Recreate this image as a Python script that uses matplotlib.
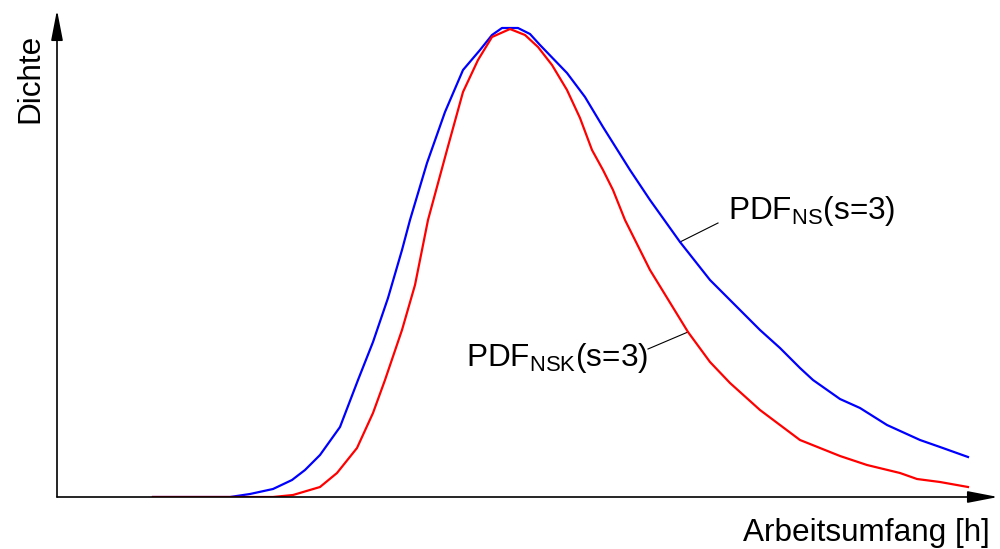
import numpy as np
import matplotlib.pyplot as plt

plt.rcParams['font.family'] = ['Liberation Sans', 'DejaVu Sans']
plt.rcParams['mathtext.default'] = 'regular'

# Arbeitsumfang [h] (arbitrary units) and density values
x_ns = [9.6, 17.3, 19.3, 21.6, 23.5, 24.8, 26.3, 28.3, 30.1, 31.6, 33.1, 34.5, 35.3,
        37.0, 38.8, 40.6, 42.3, 43.5, 44.5, 46.1, 47.3, 48.3, 51.0, 52.8, 54.6, 57.3,
        59.3, 62.3, 65.3, 68.3, 70.3, 72.3, 74.3, 75.6, 78.3, 80.3, 83.0, 86.3, 88.3, 91.1]
y_ns = [0.0, 0.0, 0.003, 0.008, 0.017, 0.027, 0.042, 0.070, 0.117, 0.155, 0.199, 0.247, 0.277,
        0.334, 0.385, 0.427, 0.447, 0.462, 0.469, 0.469, 0.463, 0.452, 0.424, 0.400, 0.370, 0.327,
        0.297, 0.255, 0.217, 0.187, 0.167, 0.149, 0.129, 0.117, 0.098, 0.089, 0.072, 0.057, 0.050, 0.040]

x_nsk = [9.6, 21.6, 23.6, 26.3, 28.0, 30.0, 31.6, 32.8, 34.5, 35.8, 37.1, 39.0, 40.6, 42.1,
         43.5, 45.3, 46.8, 48.1, 49.5, 51.0, 52.3, 53.5, 54.6, 55.6, 56.8, 59.3, 63.1, 65.3,
         67.3, 70.3, 74.3, 78.3, 81.0, 84.3, 86.0, 88.3, 91.1]
y_nsk = [0.0, 0.0, 0.002, 0.010, 0.024, 0.049, 0.084, 0.117, 0.167, 0.212, 0.277, 0.347, 0.405, 0.437,
         0.460, 0.468, 0.462, 0.450, 0.432, 0.407, 0.379, 0.347, 0.327, 0.307, 0.277, 0.227, 0.165, 0.135,
         0.114, 0.087, 0.057, 0.041, 0.032, 0.024, 0.018, 0.015, 0.010]

fig = plt.figure(figsize=(10, 5.49), dpi=100)
ax = fig.add_axes([0.057, 1 - 497 / 549, 0.941, 487 / 549])
ax.set_xlim(0, 94.1)
ax.set_ylim(0, 0.487)
for s in ax.spines.values():
    s.set_visible(False)
ax.set_xticks([])
ax.set_yticks([])

ax.plot(x_ns, y_ns, color='#0000ff', lw=1.6, zorder=3)
ax.plot(x_nsk, y_nsk, color='#ff0000', lw=1.6, zorder=3)

# axes with arrow heads
arrow = dict(arrowstyle='-|>,head_length=0.93,head_width=0.18', color='k', lw=1.2,
             mutation_scale=20, shrinkA=0, shrinkB=0)
ax.annotate('', xy=(1, 0), xytext=(0, 0), xycoords='axes fraction', arrowprops=arrow, annotation_clip=False)
ax.annotate('', xy=(0, 1), xytext=(0, 0), xycoords='axes fraction', arrowprops=arrow, annotation_clip=False)

# curve labels with leader lines
ax.plot([62.3, 66.1], [0.255, 0.274], color='k', lw=0.8)
ax.plot([63.1, 59.1], [0.165, 0.148], color='k', lw=0.8)
ax.text(67.1, 0.278, r'PDF$_{NS}$(s=3)', fontsize=22.7, ha='left', va='baseline')
ax.text(40.9, 0.131, r'PDF$_{NSK}$(s=3)', fontsize=22.7, ha='left', va='baseline')

fig.text(0.030, 1 - 78 / 549, 'Dichte', rotation=90, fontsize=22.7, ha='center', va='center')
fig.text(0.990, 1 - 541 / 549, 'Arbeitsumfang [h]', fontsize=22.7, ha='right', va='baseline')

fig.savefig('out.png', dpi=100)
